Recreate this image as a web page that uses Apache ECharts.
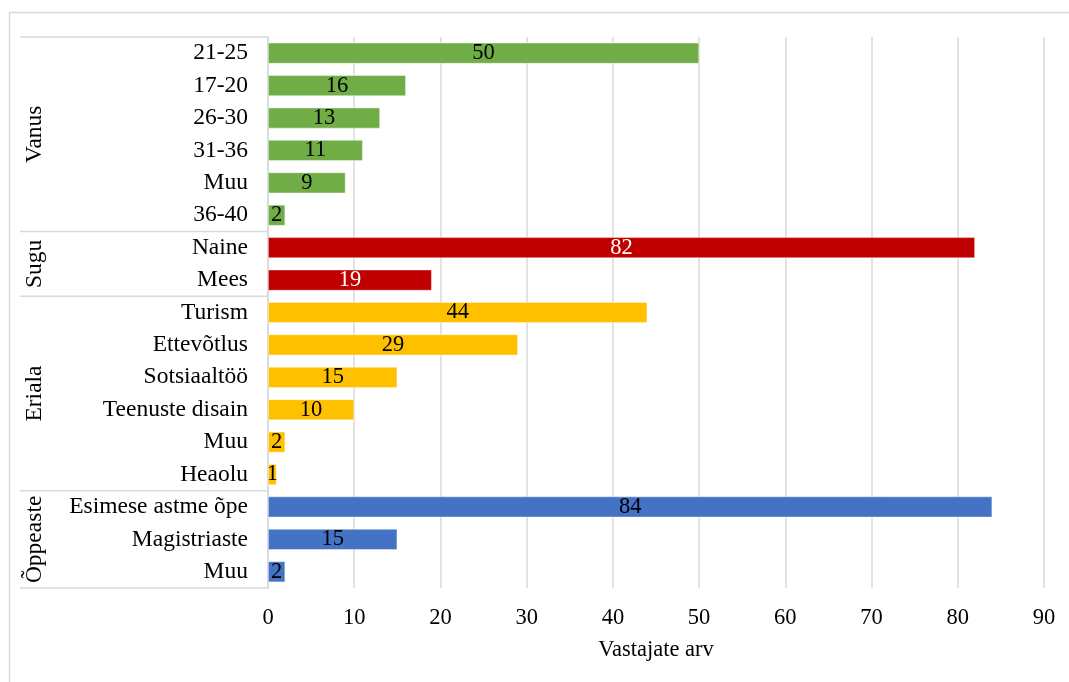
<!DOCTYPE html>
<html><head><meta charset="utf-8">
<script src="https://cdn.jsdelivr.net/npm/echarts@6/dist/echarts.min.js"></script>
<style>html,body{margin:0;padding:0;background:#fff}#c{width:1069px;height:682px}</style>
</head><body><div id="c"></div><script>
const groupNames = ['Vanus', 'Sugu', 'Eriala', 'Õppeaste'];
const vanusCats = ['21-25', '17-20', '26-30', '31-36', 'Muu', '36-40'];
const vanusVals = [50, 16, 13, 11, 9, 2];
const suguCats = ['Naine', 'Mees'];
const suguVals = [82, 19];
const erialaCats = ['Turism', 'Ettevõtlus', 'Sotsiaaltöö', 'Teenuste disain', 'Muu', 'Heaolu'];
const erialaVals = [44, 29, 15, 10, 2, 1];
const oppeasteCats = ['Esimese astme õpe', 'Magistriaste', 'Muu'];
const oppeasteVals = [84, 15, 2];
const xTickLabels = ['0', '10', '20', '30', '40', '50', '60', '70', '80', '90'];
const xAxisName = 'Vastajate arv';

const groupCats = [vanusCats, suguCats, erialaCats, oppeasteCats];
const groupVals = [vanusVals, suguVals, erialaVals, oppeasteVals];
const groupColors = ['#70AD47', '#C00000', '#FFC000', '#4472C4'];
const groupLabelColors = ['#000', '#fff', '#000', '#000'];
const FONT = "'Liberation Serif', 'Times New Roman', serif";

const categories = [].concat(...groupCats);
const starts = [];
let acc = 0;
groupCats.forEach(g => { starts.push(acc); acc += g.length; });

const series = groupVals.map((vals, gi) => {
  const data = categories.map(() => null);
  vals.forEach((v, i) => { data[starts[gi] + i] = v; });
  return {
    type: 'bar', name: groupNames[gi], stack: 'all', data: data,
    barWidth: 21,
    itemStyle: { color: groupColors[gi], borderColor: 'rgba(255,255,255,0.5)', borderWidth: 0.8 },
    label: { show: true, position: 'inside', color: groupLabelColors[gi], fontFamily: FONT, fontSize: 22.5 },
    emphasis: { disabled: true }
  };
});

const chart = echarts.init(document.getElementById('c'), null, { renderer: 'canvas' });
chart.setOption({
  animation: false,
  grid: { left: 268, right: 25, top: 37, bottom: 94, containLabel: false },
  xAxis: {
    type: 'value', min: 0, max: 90, interval: 10,
    name: xAxisName, nameLocation: 'middle', nameGap: 51,
    nameTextStyle: { color: '#000', fontFamily: FONT, fontSize: 22.5 },
    axisLine: { show: false }, axisTick: { show: false },
    splitLine: { show: true, lineStyle: { color: '#d9d9d9', width: 1.5 } },
    axisLabel: { color: '#000', fontFamily: FONT, fontSize: 22.5, margin: 19,
      formatter: v => xTickLabels[Math.round(v / 10)] }
  },
  yAxis: {
    type: 'category', inverse: true, data: categories,
    axisLine: { show: true, lineStyle: { color: '#d9d9d9', width: 1.5 } },
    axisTick: { show: false },
    splitLine: { show: false },
    axisLabel: { color: '#000', fontFamily: FONT, fontSize: 23.5, margin: 20, interval: 0 }
  },
  series: series
});

// separators and group labels, positioned via the axis scale
const py = i => chart.convertToPixel({ yAxisIndex: 0 }, i);
const half = (py(1) - py(0)) / 2;
const axisX = chart.convertToPixel({ xAxisIndex: 0 }, 0);
const graphics = [{
  type: 'rect', silent: true,
  shape: { x: 9.5, y: 12.5, width: 1200, height: 800 },
  style: { fill: null, stroke: '#d9d9d9', lineWidth: 1.5 }
}];
const bounds = starts.concat([categories.length]);
bounds.forEach(b => {
  const y = py(b) - half;
  graphics.push({ type: 'line', silent: true,
    shape: { x1: 20, y1: y, x2: axisX, y2: y },
    style: { stroke: '#d9d9d9', lineWidth: 1.5 } });
});
groupNames.forEach((name, gi) => {
  const yc = (py(starts[gi]) + py(starts[gi] + groupCats[gi].length - 1)) / 2;
  graphics.push({ type: 'text', silent: true, x: 35, y: yc, rotation: Math.PI / 2,
    style: { text: name, fill: '#000', font: '23.5px ' + FONT, align: 'center', verticalAlign: 'middle' } });
});
chart.setOption({ graphic: graphics });
</script></body></html>
